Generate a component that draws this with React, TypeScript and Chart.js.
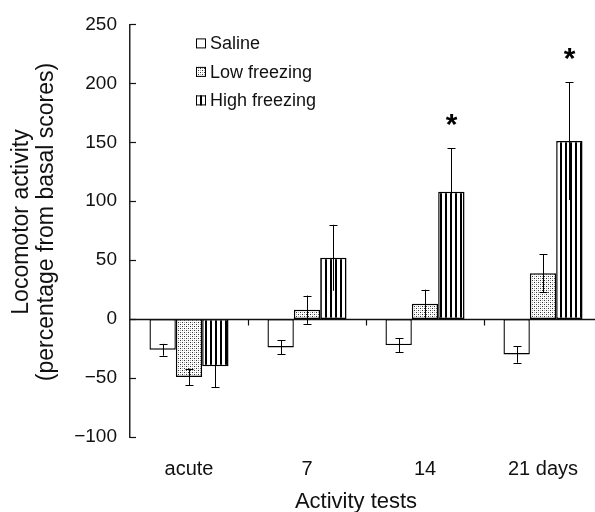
import React, { useEffect, useRef } from 'react';
import { Chart, registerables } from 'chart.js';

Chart.register(...registerables);

const categories = ['acute', '7', '14', '21 days'];
const seriesLabels = ['Saline', 'Low freezing', 'High freezing'];
const salineValues = [-26, -24, -22, -30];
const salineErrors = [5, 6, 6, 7];
const lowValues = [-49, 8, 13, 39];
const lowErrors = [7, 12, 12, 16];
const highValues = [-40, 52, 108, 151];
const highErrors = [18, 28, 37, 50];
const highMarks = ['', '', '*', '*'];
const yTickValues = [-100, -50, 0, 50, 100, 150, 200, 250];
const yTitleLines = ['Locomotor activity', '(percentage from basal scores)'];
const xTitle = 'Activity tests';

const FONT = '"Liberation Sans", Arial, Helvetica, sans-serif';
const INK = '#111111';

function makeDots(): CanvasPattern {
  const c = document.createElement('canvas');
  c.width = 4;
  c.height = 4;
  const g = c.getContext('2d')!;
  g.fillStyle = '#ffffff';
  g.fillRect(0, 0, 4, 4);
  g.fillStyle = '#333333';
  g.fillRect(0, 0, 1, 1);
  g.fillRect(2, 2, 1, 1);
  g.fillStyle = '#aaaaaa';
  g.fillRect(2, 0, 1, 1);
  g.fillRect(0, 2, 1, 1);
  return g.createPattern(c, 'repeat')!;
}

function makeStripes(): CanvasPattern {
  const c = document.createElement('canvas');
  c.width = 5;
  c.height = 2;
  const g = c.getContext('2d')!;
  g.fillStyle = '#ffffff';
  g.fillRect(0, 0, 5, 2);
  g.fillStyle = '#000000';
  g.fillRect(0, 0, 2, 2);
  return g.createPattern(c, 'repeat')!;
}

export default function App() {
  const ref = useRef<HTMLCanvasElement>(null);

  useEffect(() => {
    const canvas = ref.current!;
    const dots = makeDots();
    const stripes = makeStripes();
    const fills: any[] = ['#ffffff', dots, stripes];
    const values = [salineValues, lowValues, highValues];
    const errors = [salineErrors, lowErrors, highErrors];
    const marks = [[], [], highMarks] as string[][];
    const borderWidths = [1.4, 1.5, 1.5];
    const innerCap = [true, true, false];

    const decor = {
      id: 'decor',
      afterDatasetsDraw(chart: any) {
        const ctx = chart.ctx as CanvasRenderingContext2D;
        const ys = chart.scales.y;
        ctx.save();
        ctx.strokeStyle = '#000';
        ctx.lineWidth = 1;
        values.forEach((vals, i) => {
          const meta = chart.getDatasetMeta(i);
          meta.data.forEach((el: any, j: number) => {
            const v = vals[j];
            const e = errors[i][j];
            const x = Math.round(el.x) + 0.5;
            const yHi = ys.getPixelForValue(v + e);
            const yLo = ys.getPixelForValue(v - e);
            ctx.beginPath();
            ctx.moveTo(x, yHi);
            ctx.lineTo(x, yLo);
            ctx.stroke();
            const outer = v >= 0 ? yHi : yLo;
            const inner = v >= 0 ? yLo : yHi;
            ctx.beginPath();
            ctx.moveTo(x - 4, Math.round(outer) + 0.5);
            ctx.lineTo(x + 4, Math.round(outer) + 0.5);
            if (innerCap[i]) {
              ctx.moveTo(x - 4, Math.round(inner) + 0.5);
              ctx.lineTo(x + 4, Math.round(inner) + 0.5);
            }
            ctx.stroke();
            const m = marks[i][j];
            if (m) {
              ctx.font = `bold 30px ${FONT}`;
              ctx.fillStyle = '#000';
              ctx.textAlign = 'center';
              ctx.textBaseline = 'alphabetic';
              const tm = ctx.measureText(m);
              const cy = yHi - 28;
              const base = cy + (tm.actualBoundingBoxAscent - tm.actualBoundingBoxDescent) / 2;
              ctx.fillText(m, x, base);
            }
          });
        });
        ctx.restore();
      },
      afterDraw(chart: any) {
        const ctx = chart.ctx as CanvasRenderingContext2D;
        const ys = chart.scales.y;
        const xs = chart.scales.x;
        const area = chart.chartArea;
        ctx.save();
        const y0 = Math.round(ys.getPixelForValue(0)) + 0.5;
        ctx.strokeStyle = '#111';
        ctx.lineWidth = 1.3;
        ctx.beginPath();
        ctx.moveTo(area.left, y0);
        ctx.lineTo(area.right, y0);
        ctx.stroke();
        ctx.lineWidth = 1.2;
        for (let k = 0; k < categories.length; k++) {
          const a = xs.getPixelForValue(k);
          const b = k + 1 < categories.length ? xs.getPixelForValue(k + 1) : a + (a - xs.getPixelForValue(k - 1));
          const bx = Math.round((a + b) / 2) + 0.5;
          ctx.beginPath();
          ctx.moveTo(bx, y0);
          ctx.lineTo(bx, y0 + 6);
          ctx.stroke();
        }
        yTickValues.forEach((v) => {
          const ty = Math.round(ys.getPixelForValue(v)) + 0.5;
          ctx.beginPath();
          ctx.moveTo(area.left, ty);
          ctx.lineTo(area.left + 6, ty);
          ctx.stroke();
        });
        ctx.font = `18px ${FONT}`;
        ctx.textAlign = 'left';
        ctx.textBaseline = 'middle';
        seriesLabels.forEach((lab, i) => {
          const cy = area.top + 19 + i * 28.5;
          const bx = area.left + 66;
          ctx.fillStyle = fills[i];
          ctx.fillRect(bx, cy - 5, 10, 10);
          ctx.strokeStyle = '#000';
          ctx.lineWidth = 1;
          ctx.strokeRect(bx + 0.5, cy - 4.5, 9, 9);
          ctx.fillStyle = INK;
          ctx.fillText(lab, bx + 14, cy + 1);
        });
        ctx.fillStyle = INK;
        ctx.font = `22px ${FONT}`;
        ctx.textAlign = 'center';
        ctx.textBaseline = 'middle';
        ctx.fillText(xTitle, 356, 502);
        ctx.save();
        ctx.translate(0, 222);
        ctx.rotate(-Math.PI / 2);
        ctx.font = `23px ${FONT}`;
        ctx.fillText(yTitleLines[0], 0, 22);
        ctx.fillText(yTitleLines[1], 0, 47);
        ctx.restore();
        ctx.restore();
      },
    };

    const chart = new Chart(canvas, {
      type: 'bar',
      data: {
        labels: categories,
        datasets: values.map((vals, i) => ({
          label: seriesLabels[i],
          data: vals,
          backgroundColor: fills[i],
          borderColor: '#000',
          borderWidth: borderWidths[i],
          borderSkipped: false,
          categoryPercentage: 0.67,
          barPercentage: 1,
        })),
      },
      options: {
        responsive: false,
        animation: false,
        devicePixelRatio: 1,
        layout: { padding: { left: 0, right: 18, top: 21, bottom: 0 } },
        plugins: {
          legend: { display: false },
          tooltip: { enabled: false },
          title: { display: false },
        },
        scales: {
          x: {
            type: 'category',
            offset: true,
            grid: { display: false, drawTicks: false, tickLength: 0 },
            border: { display: false },
            ticks: {
              padding: 20,
              color: INK,
              font: { family: FONT, size: 20 },
              maxRotation: 0,
              autoSkip: false,
            },
            afterFit: (s: any) => {
              s.height = 75;
            },
          },
          y: {
            min: -100,
            max: 250,
            afterBuildTicks: (s: any) => {
              s.ticks = yTickValues.map((v) => ({ value: v }));
            },
            grid: { display: false, drawTicks: false, tickLength: 0 },
            border: { display: true, color: '#222', width: 1.5 },
            ticks: {
              padding: 13,
              color: INK,
              font: { family: FONT, size: 19 },
              callback: (v: any) => (Number(v) < 0 ? '\u2212' + Math.abs(Number(v)) : String(v)),
            },
            afterFit: (s: any) => {
              s.width = 130;
            },
          },
        },
      },
      plugins: [decor],
    } as any);

    return () => chart.destroy();
  }, []);

  return (
    <div
      style={{
        position: 'fixed',
        left: 0,
        top: 0,
        width: 595,
        height: 512,
        overflow: 'hidden',
        background: '#fff',
      }}
    >
      <canvas ref={ref} width={620} height={512} style={{ display: 'block', width: 620, height: 512 }} />
    </div>
  );
}
